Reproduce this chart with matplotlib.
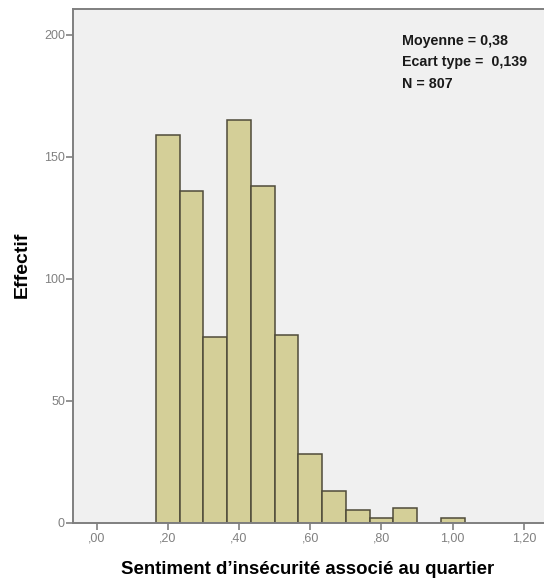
import numpy as np
import matplotlib
matplotlib.use("Agg")
import matplotlib.pyplot as plt

# histogram counts (bins of width 1/15 starting at 1/6)
bin_start = 1 / 6
bin_width = 1 / 15
counts = [159, 136, 76, 165, 138, 77, 28, 13, 5, 2, 6, 0, 2]
x_ticks = [0.0, 0.2, 0.4, 0.6, 0.8, 1.0, 1.2]
x_ticklabels = [",00", ",20", ",40", ",60", ",80", "1,00", "1,20"]
y_ticks = [0, 50, 100, 150, 200]
stats_lines = ["Moyenne = 0,38", "Ecart type =  0,139", "N = 807"]

plt.rcParams['font.family'] = ['Liberation Sans', 'DejaVu Sans']

W, H = 544, 581
fig = plt.figure(figsize=(W / 100, H / 100), dpi=100)
# axes runs off the right edge of the picture, like the SPSS crop
ax = fig.add_axes([73.3 / W, (H - 522.7) / H, 1 - 73.3 / W, 513.7 / H])
ax.set_facecolor("#f0f0f0")

edges = bin_start + bin_width * np.arange(len(counts) + 1)
ax.bar(edges[:-1], counts, width=bin_width, align="edge",
       color="#d4cf98", edgecolor="#4f4b3a", linewidth=1.1)

ax.set_xlim(-0.0657, 1.2565)
ax.set_ylim(0, 210.5)

ax.set_xticks(x_ticks)
ax.set_xticklabels(x_ticklabels)
ax.set_yticks(y_ticks)
ax.tick_params(axis="both", colors="#808080", labelsize=9, length=5, width=1.2)
ax.tick_params(axis="x", pad=2)
ax.tick_params(axis="y", pad=1)

for side in ["left", "bottom", "top"]:
    ax.spines[side].set_color("#7f7f7f")
    ax.spines[side].set_linewidth(1.4)
ax.spines["right"].set_visible(False)

fig.text(22 / W, 1 - 265 / H, "Effectif", rotation=90, fontsize=14,
         fontweight="bold", ha="center", va="center")
fig.text(308 / W, 1 - 569 / H, "Sentiment d\u2019insécurité associé au quartier",
         fontsize=13.4, fontweight="bold", ha="center", va="center")

for i, line in enumerate(stats_lines):
    fig.text(401.7 / W, 1 - (41 + 21.3 * i) / H, line, fontsize=10.3,
             fontweight="bold", va="center", ha="left", color="#1a1a1a")

fig.savefig("out.png", dpi=100)
